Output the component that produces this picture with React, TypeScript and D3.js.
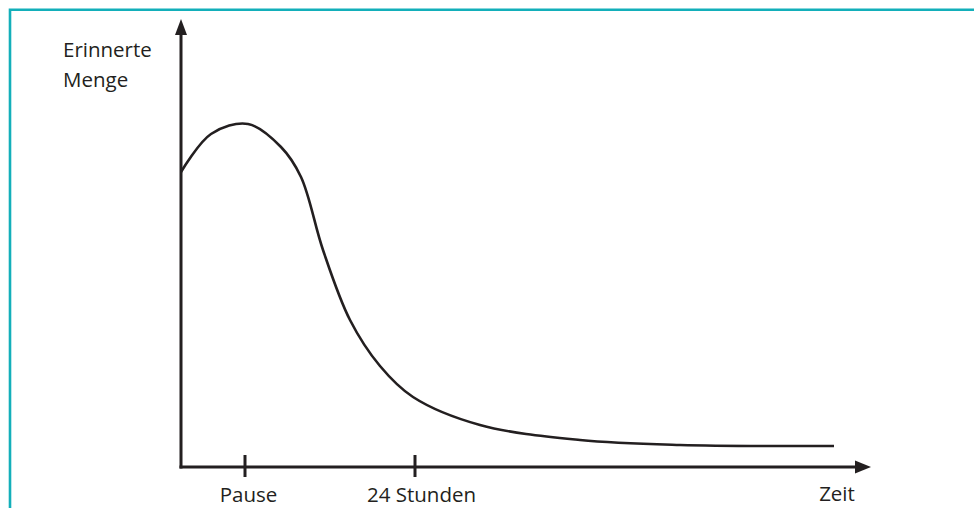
import React from "react";
import * as d3 from "d3";

// Curve: time (arbitrary units from origin) vs. remembered amount
const timeValues = [0, 30, 67, 100, 120, 142, 169, 199, 232, 299, 399, 499, 653];
const memoryValues = [295, 333, 343, 320, 290, 217, 147, 101, 70, 42, 27, 22, 21];
const tickPositions = [64, 234];
const tickLabels = ["Pause", "24 Stunden"];
const yLabelLines = ["Erinnerte", "Menge"];
const xLabel = "Zeit";

const W = 974;
const H = 508;
const FONT = "'Open Sans', sans-serif";

export default function App() {
  const x = d3.scaleLinear().domain([0, 690]).range([181, 871]);
  const y = d3.scaleLinear().domain([0, 448]).range([467, 19]);
  const pts: [number, number][] = timeValues.map((t, i) => [t, memoryValues[i]]);
  const line = d3
    .line<[number, number]>()
    .x((d) => x(d[0]))
    .y((d) => y(d[1]))
    .curve(d3.curveCatmullRom.alpha(0.5));

  const x0 = x(0);
  const y0 = y(0);
  const xEnd = x(690);
  const yTop = y(448);

  return (
    <svg
      width={W}
      height={H}
      style={{ position: "absolute", left: 0, top: 0, background: "#fff" }}
    >
      {/* teal frame */}
      <path d={`M10,${H} L10,9.8 L${W},9.8`} fill="none" stroke="#13AFBA" strokeWidth={2.6} />

      {/* axes */}
      <line x1={x0} y1={y0 + 1.5} x2={x0} y2={yTop + 14} stroke="#231f20" strokeWidth={3} />
      <path d={`M${x0},${yTop} L${x0 - 6},${yTop + 16} L${x0 + 6},${yTop + 16} Z`} fill="#231f20" />
      <line x1={x0 - 1.5} y1={y0} x2={xEnd - 14} y2={y0} stroke="#231f20" strokeWidth={3} />
      <path d={`M${xEnd},${y0} L${xEnd - 16},${y0 - 6.5} L${xEnd - 16},${y0 + 6.5} Z`} fill="#231f20" />

      {/* ticks */}
      {tickPositions.map((t, i) => (
        <g key={i}>
          <line x1={x(t)} x2={x(t)} y1={y0 - 12} y2={y0 + 10} stroke="#231f20" strokeWidth={3} />
          <text
            x={x(t) + (i === 0 ? 3.5 : 6.5)}
            y={502}
            textAnchor="middle"
            fontFamily={FONT}
            fontSize={20.5}
            fill="#231f20"
          >
            {tickLabels[i]}
          </text>
        </g>
      ))}

      {/* curve */}
      <path d={line(pts) || ""} fill="none" stroke="#231f20" strokeWidth={2.6} />

      {/* axis labels */}
      {yLabelLines.map((s, i) => (
        <text key={i} x={63} y={57 + i * 30} fontFamily={FONT} fontSize={20.5} fill="#231f20">
          {s}
        </text>
      ))}
      <text x={837} y={501} textAnchor="middle" fontFamily={FONT} fontSize={20.5} fill="#231f20">
        {xLabel}
      </text>
    </svg>
  );
}
